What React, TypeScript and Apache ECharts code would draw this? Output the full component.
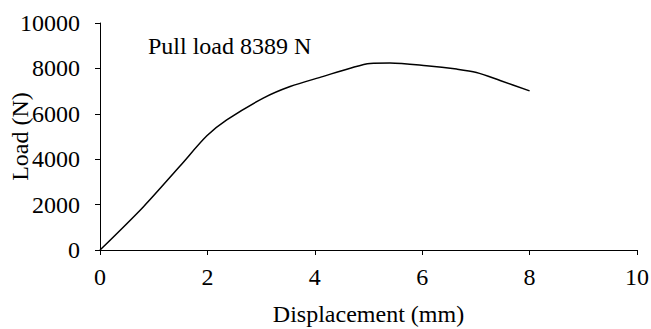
import React, { useEffect, useRef } from "react";
import * as echarts from "echarts";

const displacement = [0, 0.81, 1.49, 1.99, 2.36, 3.04, 3.54, 4.16, 4.66, 5.03, 5.4, 6.08, 6.64, 7.01, 7.45, 8.0];
const load = [0, 1910, 3700, 5030, 5730, 6690, 7200, 7650, 8010, 8220, 8240, 8120, 7970, 7820, 7470, 7010];
const annotation = "Pull load 8389 N";
const xName = "Displacement (mm)";
const yName = "Load (N)";

const FONT = "'Liberation Serif', 'Times New Roman', serif";

export default function App() {
  const ref = useRef<HTMLDivElement>(null);
  useEffect(() => {
    if (!ref.current) return;
    const chart = echarts.init(ref.current, null, { renderer: "svg" });
    const axisCommon = {
      axisLine: { show: true, lineStyle: { color: "#000", width: 1 } },
      axisTick: { show: true, inside: false, length: 5, lineStyle: { color: "#000" } },
      splitLine: { show: false },
      nameMoveOverlap: false,
      nameTextStyle: { fontFamily: FONT, fontSize: 24, color: "#000" },
    };
    chart.setOption({
      animation: false,
      backgroundColor: "#fff",
      title: {
        text: annotation,
        left: 148,
        top: 34,
        padding: 0,
        textStyle: { fontFamily: FONT, fontSize: 24, fontWeight: "normal", color: "#000" },
      },
      grid: { left: 100, right: 14, top: 23, bottom: 79, containLabel: false, outerBoundsMode: "none" },
      xAxis: {
        type: "value",
        min: 0,
        max: 10,
        interval: 2,
        name: xName,
        nameLocation: "middle",
        nameGap: 52,
        ...axisCommon,
        axisLabel: { fontFamily: FONT, fontSize: 24, color: "#000", margin: 15, formatter: (v: number) => String(v) },
      },
      yAxis: {
        type: "value",
        min: 0,
        max: 10000,
        interval: 2000,
        name: yName,
        nameLocation: "middle",
        nameGap: 68,
        ...axisCommon,
        axisLabel: { fontFamily: FONT, fontSize: 24, color: "#000", margin: 20, formatter: (v: number) => String(v) },
      },
      series: [
        {
          type: "line",
          data: displacement.map((x, i) => [x, load[i]]),
          smooth: 0.3,
          showSymbol: false,
          lineStyle: { color: "#000", width: 1.5 },
        },
      ],
    });
    return () => chart.dispose();
  }, []);
  return <div ref={ref} style={{ width: 651, height: 329, position: "absolute", left: 0, top: 0 }} />;
}
